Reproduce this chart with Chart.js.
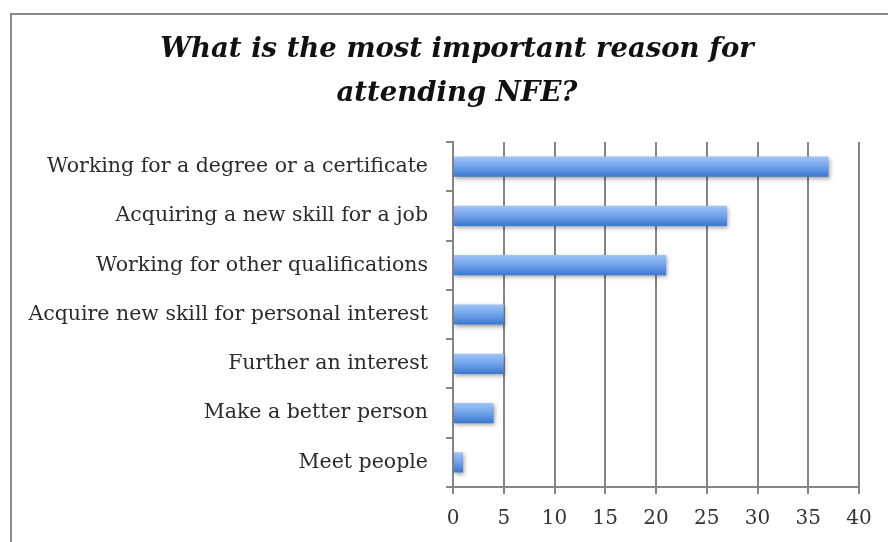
<!DOCTYPE html>
<html>
<head>
<meta charset="utf-8">
<script src="https://cdn.jsdelivr.net/npm/chart.js@4/dist/chart.umd.min.js"></script>
<style>
  html, body { margin: 0; padding: 0; background: #fff; }
  #wrap { width: 888px; height: 542px; position: relative; }
</style>
</head>
<body>
<div id="wrap"><canvas id="reasonChart"></canvas></div>
<script>
// Chart data
const reasons = [
    'Working for a degree or a certificate',
    'Acquiring a new skill for a job',
    'Working for other qualifications',
    'Acquire new skill for personal interest',
    'Further an interest',
    'Make a better person',
    'Meet people'
];
const responses = [37, 27, 21, 5, 5, 4, 1];
const xTicks = [0, 5, 10, 15, 20, 25, 30, 35, 40];
const titleLines = ['What is the most important reason for', 'attending NFE?'];

// Frame around the chart (left + top edges only visible)
const framePlugin = {
    id: 'frame',
    beforeDraw(chart) {
        const ctx = chart.ctx;
        ctx.save();
        ctx.strokeStyle = '#8a8a8a';
        ctx.lineWidth = 2;
        ctx.beginPath();
        ctx.moveTo(11, 542);
        ctx.lineTo(11, 14);
        ctx.lineTo(888, 14);
        ctx.stroke();
        ctx.restore();
    }
};

// Title, centred a little right of the canvas centre like the original
const titlePlugin = {
    id: 'offsetTitle',
    afterDraw(chart) {
        const ctx = chart.ctx;
        ctx.save();
        ctx.fillStyle = '#111';
        ctx.font = 'italic bold 27.5px "DejaVu Serif"';
        ctx.textAlign = 'center';
        ctx.textBaseline = 'middle';
        titleLines.forEach((line, i) => {
            ctx.fillText(line, 457, 50 + i * 44);
        });
        ctx.restore();
    }
};

// Soft shadow under the bars
const shadowPlugin = {
    id: 'barShadow',
    beforeDatasetsDraw(chart) {
        const ctx = chart.ctx;
        ctx.save();
        ctx.shadowColor = 'rgba(0, 0, 0, 0.35)';
        ctx.shadowBlur = 4;
        ctx.shadowOffsetX = 1;
        ctx.shadowOffsetY = 2;
    },
    afterDatasetsDraw(chart) {
        chart.ctx.restore();
    }
};

function barGradient(context) {
    const chart = context.chart;
    const yScale = chart.scales.y;
    if (!yScale || !chart.chartArea) return '#6a9ee8';
    const center = yScale.getPixelForValue(context.dataIndex);
    const half = 10;
    const g = chart.ctx.createLinearGradient(0, center - half, 0, center + half);
    g.addColorStop(0, '#9fc4f6');
    g.addColorStop(0.45, '#74a6ec');
    g.addColorStop(1, '#3b78d2');
    return g;
}

function initializeReasonChart() {
    const ctx = document.getElementById('reasonChart').getContext('2d');
    new Chart(ctx, {
        type: 'bar',
        data: {
            labels: reasons,
            datasets: [{
                data: responses,
                backgroundColor: barGradient,
                borderWidth: 0,
                categoryPercentage: 1,
                barPercentage: 0.41
            }]
        },
        options: {
            indexAxis: 'y',
            responsive: true,
            maintainAspectRatio: false,
            animation: false,
            layout: {
                padding: { left: 18, right: 29, top: 142, bottom: 0 }
            },
            plugins: {
                legend: { display: false },
                tooltip: { enabled: false },
                title: { display: false }
            },
            scales: {
                x: {
                    min: 0,
                    max: 40,
                    afterBuildTicks(scale) {
                        scale.ticks = xTicks.map(v => ({ value: v }));
                    },
                    afterFit(scale) { scale.height = 55; },
                    grid: {
                        color: '#858585',
                        lineWidth: 2,
                        tickLength: 7
                    },
                    border: { display: true, color: '#858585', width: 2 },
                    ticks: {
                        color: '#333',
                        padding: 13,
                        font: { family: 'DejaVu Serif', size: 20 }
                    }
                },
                y: {
                    afterFit(scale) { scale.width = 435; },
                    grid: {
                        offset: true,
                        drawOnChartArea: false,
                        color: '#858585',
                        lineWidth: 2,
                        tickLength: 7
                    },
                    border: { display: true, color: '#858585', width: 2 },
                    ticks: {
                        color: '#2b2b2b',
                        padding: 18,
                        font: { family: 'DejaVu Serif', size: 20.5 }
                    }
                }
            }
        },
        plugins: [framePlugin, shadowPlugin, titlePlugin]
    });
}

document.addEventListener('DOMContentLoaded', () => {
    initializeReasonChart();
});
</script>
</body>
</html>
